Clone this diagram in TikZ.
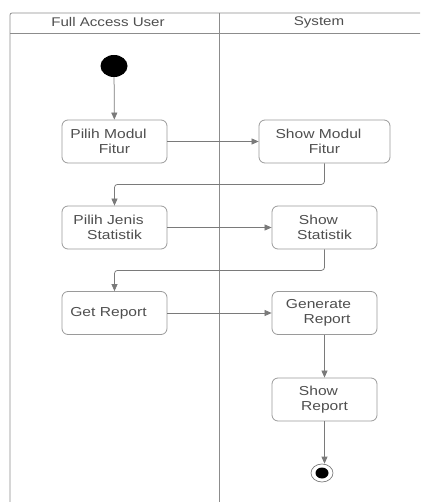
\documentclass[tikz,border=0pt]{standalone}
\usepackage{fontspec}
\setmainfont{Liberation Sans}[FakeStretch=1.2]
\usetikzlibrary{arrows.meta,shapes.geometric}
\definecolor{lane}{HTML}{8C8C8C}
\definecolor{edge}{HTML}{7A7A7A}
\definecolor{boxline}{HTML}{9A9A9A}
\definecolor{txt}{HTML}{4E4E4E}
% first lines of the activity labels sit a little left of centre
\newcommand{\leftish}[1]{\hspace*{-12pt}#1}
\tikzset{
  x=1pt, y=-1pt,
  lanetitle/.style={font=\fontsize{12.6}{14}\selectfont, text=txt, inner sep=0pt},
  actbox/.style={draw=boxline, line width=0.8pt, rounded corners=6pt,
    minimum width=105pt, minimum height=43pt, align=center, inner sep=2pt,
    font=\fontsize{13}{15.5}\selectfont, text=txt},
  flow/.style={draw=edge, line width=0.75pt, rounded corners=3pt,
    -{Triangle[length=7pt,width=6pt]}},
}
\begin{document}
\begin{tikzpicture}
\useasboundingbox (0,0) rectangle (420,502);
\clip (0,0) rectangle (420,502);

% swimlane frame
\draw[lane, line width=0.8pt, rounded corners=2pt] (10,510) -- (10,13) -- (430,13);
\draw[lane, line width=0.8pt] (10,33) -- (430,33);
\draw[lane, line width=0.8pt] (219,13) -- (219,510);
\node[lanetitle] (lane1) at (108,22.5) {Full Access User};
\node[lanetitle] (lane2) at (319,22.5) {System};

% initial and final states
\node[ellipse, fill=black, minimum width=27pt, minimum height=22pt, inner sep=0pt] (start) at (114,66) {};
\node[ellipse, draw=edge, line width=0.7pt, minimum width=22pt, minimum height=18pt, inner sep=0pt] (stop) at (322,473) {};
\node[ellipse, fill=black, minimum width=13pt, minimum height=11pt, inner sep=0pt] (stopdot) at (stop.center) {};

% activities
\node[actbox] (b1) at (114.5,141.5) {\leftish{Pilih Modul}\\Fitur};
\node[actbox, minimum width=131pt] (b2) at (324.5,141.5) {\leftish{Show Modul}\\Fitur};
\node[actbox] (b3) at (114.5,227.5) {\leftish{Pilih Jenis}\\Statistik};
\node[actbox] (b4) at (324.5,227.5) {\leftish{Show}\\Statistik};
\node[actbox] (b5) at (114.5,313) {\leftish{Get Report}};
\node[actbox] (b6) at (324.5,313) {\leftish{Generate}\\\hspace*{5pt}Report};
\node[actbox] (b7) at (324.5,399.5) {\leftish{Show}\\Report};

% control flow
\draw[flow] (start) -- (b1);
\draw[flow] (b1) -- (b2);
\draw[flow] (b2.south) -- ++(0,21) -| (b3.north);
\draw[flow] (b3) -- (b4);
\draw[flow] (b4.south) -- ++(0,21) -| (b5.north);
\draw[flow] (b5) -- (b6);
\draw[flow] (b6) -- (b7);
\draw[flow] (b7.south) -- (b7.south |- stop.north);
\end{tikzpicture}
\end{document}
